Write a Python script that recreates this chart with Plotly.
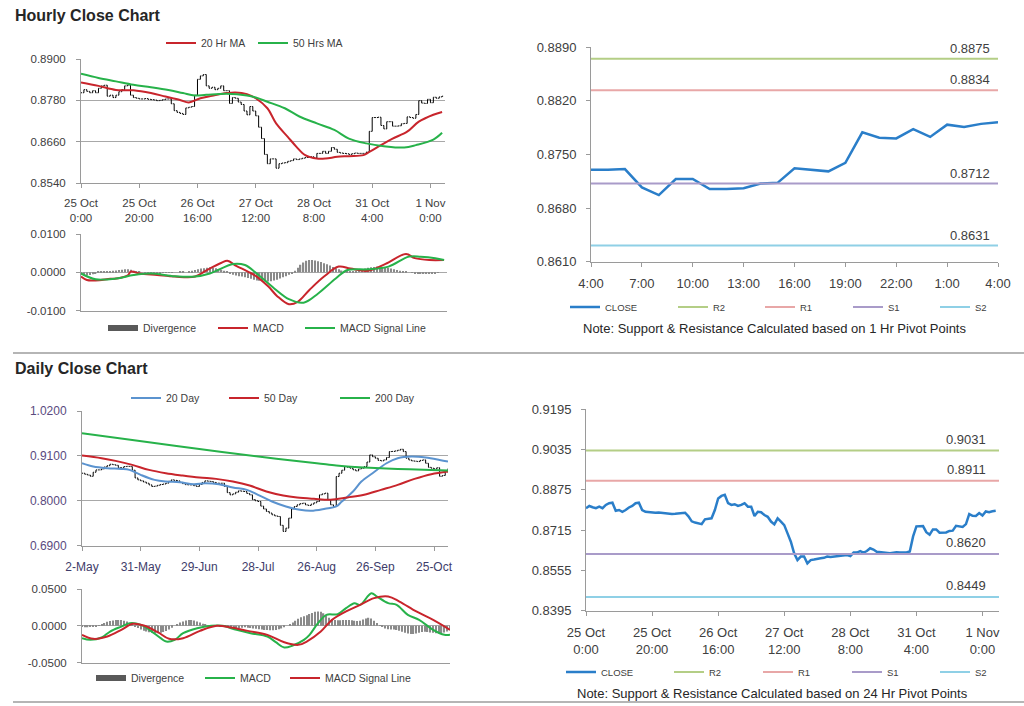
import plotly.graph_objects as go

FONT = "Liberation Sans, Arial, sans-serif"
W, H = 1024, 706
TXT = "#404040"
GRID = "#A8A8A8"
AXL = "#9A9A9A"
RED = "#C8252C"
GREEN = "#27B24A"
BLUE20 = "#5B93CF"
CLOSE_BLUE = "#2A7EC9"

# ---------------- data: hourly ----------------
hourly_close = [
    0.8802, 0.8811, 0.8806, 0.8802, 0.8808, 0.8802, 0.8815, 0.8822, 0.8824, 0.8792,
    0.8795, 0.8788, 0.8795, 0.8805, 0.8811, 0.8822, 0.8824, 0.8795, 0.8788, 0.8786,
    0.8784, 0.8784, 0.8785, 0.8783, 0.8782, 0.8781, 0.8779, 0.8780, 0.8782, 0.8784,
    0.8784, 0.8770, 0.8750, 0.8745, 0.8742, 0.8739, 0.8758, 0.8760, 0.8762, 0.8795,
    0.8841, 0.8851, 0.8855, 0.8822, 0.8815, 0.8818, 0.8811, 0.8815, 0.8822, 0.8808,
    0.8808, 0.8771, 0.8788, 0.8786, 0.8775, 0.8768, 0.8749, 0.8738, 0.8762, 0.8749,
    0.8735, 0.8702, 0.8669, 0.8623, 0.8596, 0.8610, 0.8610, 0.8583, 0.8596, 0.8598,
    0.8599, 0.8603, 0.8605, 0.8610, 0.8608, 0.8610, 0.8612, 0.8614, 0.8615, 0.8616,
    0.8612, 0.8626, 0.8626, 0.8632, 0.8626, 0.8632, 0.8643, 0.8638, 0.8629, 0.8627,
    0.8626, 0.8625, 0.8623, 0.8625, 0.8627, 0.8626, 0.8626, 0.8626, 0.8630, 0.8690,
    0.8730, 0.8730, 0.8731, 0.8707, 0.8697, 0.8718, 0.8718, 0.8705, 0.8705, 0.8706,
    0.8712, 0.8713, 0.8732, 0.8730, 0.8728, 0.8739, 0.8779, 0.8772, 0.8771, 0.8783,
    0.8773, 0.8789, 0.8786, 0.8790, 0.8792,
]
hourly_tick_idx = [0, 20, 40, 60, 80, 100, 120]
hourly_tick_text = ["25 Oct<br>0:00", "25 Oct<br>20:00", "26 Oct<br>16:00", "27 Oct<br>12:00",
                    "28 Oct<br>8:00", "31 Oct<br>4:00", "1 Nov<br>0:00"]

ma20_hr_idx = [0, 6, 12, 18, 24, 29, 34, 37, 41, 45, 50, 53, 57, 60, 64, 67, 71, 74, 77, 81,
               84, 88, 92, 97, 99, 103, 107, 112, 116, 121, 124]
ma20_hr_val = [0.8832, 0.8822, 0.8810, 0.8809, 0.8801, 0.8791, 0.8781, 0.8774, 0.8786, 0.8793,
               0.8801, 0.8803, 0.8798, 0.8786, 0.8757, 0.8713, 0.8674, 0.8645, 0.8621, 0.8611,
               0.8611, 0.8616, 0.8618, 0.8621, 0.8630, 0.8650, 0.8669, 0.8689, 0.8718, 0.8738, 0.8746]
ma50_hr_idx = [0, 6, 12, 18, 24, 30, 35, 39, 43, 50, 57, 60, 64, 70, 75, 81, 87, 92, 98, 104,
               111, 115, 121, 124]
ma50_hr_val = [0.8857, 0.8845, 0.8835, 0.8825, 0.8818, 0.8810, 0.8801, 0.8794, 0.8796, 0.8799,
               0.8794, 0.8788, 0.8776, 0.8757, 0.8733, 0.8713, 0.8694, 0.8669, 0.8655, 0.8647,
               0.8643, 0.8650, 0.8666, 0.8686]

macd_hr_idx = [0, 2, 5, 10, 12, 16, 17, 20, 26, 32, 39, 43, 48, 50, 53, 57, 60, 64, 67, 71,
               74, 78, 83, 88, 92, 98, 104, 111, 114, 119, 124]
macd_hr_val = [-0.0011, -0.0020, -0.0021, -0.0017, -0.0016, -0.0008, 0.0002, -0.0003, -0.0007,
               -0.0011, -0.0011, 0.0006, 0.0025, 0.0030, 0.0017, 0.0002, -0.0011, -0.0037, -0.0062,
               -0.0083, -0.0077, -0.0046, -0.0011, 0.0015, 0.0010, 0.0004, 0.0022, 0.0048, 0.0037,
               0.0032, 0.0032]
signal_hr_idx = [0, 5, 12, 18, 24, 32, 39, 44, 52, 56, 60, 66, 71, 76, 81, 87, 91, 98, 105,
                 112, 116, 121, 124]
signal_hr_val = [-0.0003, -0.0018, -0.0016, -0.0007, -0.0003, -0.0010, -0.0011, -0.0003, 0.0022,
                 0.0019, -0.0003, -0.0042, -0.0070, -0.0079, -0.0055, -0.0016, 0.0006, 0.0008,
                 0.0015, 0.0041, 0.0041, 0.0037, 0.0032]
divergence_hr = [
    -0.0005, -0.0008, -0.0008, -0.0007, -0.0005, -0.0003,
    0.0001, 0.0002, 0.0002, 0.0003, 0.0003, 0.0004,
    0.0005, 0.0006, 0.0007, 0.0008, 0.0008, 0.0007,
    0.0004, 0.0002, 0.0001, 0.0000, -0.0001, -0.0001,
    -0.0001, -0.0001, -0.0002, -0.0002, -0.0001, -0.0001,
    -0.0001, -0.0001, 0.0000, 0.0000, 0.0001, 0.0001,
    0.0000, 0.0002, 0.0004, 0.0006, 0.0008, 0.0010,
    0.0011, 0.0012, 0.0013, 0.0012, 0.0011, 0.0009,
    0.0007, 0.0004, 0.0001, -0.0003, -0.0006, -0.0008,
    -0.0010, -0.0011, -0.0013, -0.0015, -0.0017, -0.0019,
    -0.0021, -0.0022, -0.0023, -0.0024, -0.0024, -0.0023,
    -0.0021, -0.0019, -0.0016, -0.0013, -0.0010, -0.0006,
    -0.0002, 0.0004, 0.0012, 0.0020, 0.0026, 0.0030,
    0.0032, 0.0032, 0.0031, 0.0029, 0.0027, 0.0024,
    0.0021, 0.0018, 0.0014, 0.0011, 0.0008, 0.0005,
    0.0003, 0.0002, 0.0002, 0.0003, 0.0004, 0.0006,
    0.0008, 0.0010, 0.0012, 0.0013, 0.0014, 0.0015,
    0.0015, 0.0014, 0.0013, 0.0012, 0.0010, 0.0008,
    0.0006, 0.0004, 0.0002, 0.0001, 0.0000, -0.0001,
    -0.0002, -0.0003, -0.0004, -0.0004, -0.0003, -0.0003,
    -0.0002, -0.0002, -0.0001, 0.0000, 0.0000,
]

# last 24 hours (1 Hr pivot chart)
last_day_start = 100
last_day_tick_idx = [0, 3, 6, 9, 12, 15, 18, 21, 24]
last_day_tick_text = ["4:00", "7:00", "10:00", "13:00", "16:00", "19:00", "22:00", "1:00", "4:00"]

level_names = ["R2", "R1", "S1", "S2"]
level_colors = ["#B4CE86", "#E8A7A7", "#A99BC9", "#8FD0E6"]
levels_1h = [0.8875, 0.8834, 0.8712, 0.8631]
levels_24h = [0.9031, 0.8911, 0.8620, 0.8449]

# ---------------- data: daily ----------------
daily_close = [
    0.8676, 0.8650, 0.8630, 0.8600, 0.8700, 0.8757, 0.8757, 0.8780, 0.8830, 0.8860,
    0.8896, 0.8885, 0.8870, 0.8810, 0.8810, 0.8839, 0.8845, 0.8839, 0.8750, 0.8560,
    0.8513, 0.8489, 0.8460, 0.8431, 0.8390, 0.8350, 0.8360, 0.8380, 0.8400, 0.8410,
    0.8431, 0.8480, 0.8513, 0.8500, 0.8489, 0.8450, 0.8420, 0.8395, 0.8391, 0.8391,
    0.8370, 0.8350, 0.8400, 0.8450, 0.8489, 0.8480, 0.8472, 0.8450, 0.8431, 0.8430,
    0.8431, 0.8350, 0.8200, 0.8146, 0.8170, 0.8210, 0.8244, 0.8235, 0.8228, 0.8180,
    0.8146, 0.8030, 0.8000, 0.7983, 0.7870, 0.7800, 0.7739, 0.7700, 0.7657, 0.7630,
    0.7616, 0.7400, 0.7250, 0.7331, 0.7576, 0.7800, 0.7860, 0.7902, 0.7930, 0.7942,
    0.7900, 0.7885, 0.7918, 0.7950, 0.7983, 0.8146, 0.8170, 0.8187, 0.8030, 0.7902,
    0.7861, 0.8594, 0.8676, 0.8750, 0.8839, 0.8820, 0.8798, 0.8760, 0.8733, 0.8780,
    0.8798, 0.8839, 0.8950, 0.9124, 0.9080, 0.9043, 0.8990, 0.8978, 0.9002, 0.9060,
    0.9206, 0.9210, 0.9222, 0.9240, 0.9263, 0.9206, 0.9043, 0.9000, 0.8978, 0.8970,
    0.8961, 0.8990, 0.9002, 0.8920, 0.8820, 0.8798, 0.8780, 0.8810, 0.8600, 0.8620,
    0.8710, 0.8790,
]
daily_tick_idx = [0, 21, 42, 63, 84, 105, 126]
daily_tick_text = ["2-May", "31-May", "29-Jun", "28-Jul", "26-Aug", "26-Sep", "25-Oct"]

sma20_idx = [0, 4, 9, 14, 17, 21, 26, 30, 35, 40, 44, 49, 54, 59, 63, 68, 73, 78, 82, 87,
             91, 93, 97, 100, 104, 109, 113, 118, 123, 128, 131]
sma20_val = [0.8920, 0.8839, 0.8798, 0.8782, 0.8757, 0.8635, 0.8513, 0.8472, 0.8456, 0.8407,
             0.8431, 0.8407, 0.8326, 0.8268, 0.8146, 0.7983, 0.7861, 0.7779, 0.7755, 0.7804,
             0.7861, 0.7983, 0.8228, 0.8472, 0.8676, 0.8920, 0.9043, 0.9083, 0.9059, 0.9002, 0.8961]
sma50_idx = [0, 7, 12, 18, 24, 30, 36, 42, 48, 54, 60, 66, 72, 77, 83, 89, 95, 101, 107,
             113, 119, 125, 131]
sma50_val = [0.9108, 0.9043, 0.8978, 0.8880, 0.8757, 0.8676, 0.8619, 0.8570, 0.8537, 0.8472,
             0.8374, 0.8228, 0.8130, 0.8081, 0.8048, 0.8024, 0.8081, 0.8146, 0.8268, 0.8391,
             0.8537, 0.8652, 0.8717]
sma200_idx = [0, 18, 42, 66, 84, 91, 95, 101, 113, 125, 131]
sma200_val = [0.9654, 0.9491, 0.9271, 0.9059, 0.8920, 0.8863, 0.8839, 0.8815, 0.8782, 0.8757, 0.8741]

macd_d_idx = [0, 3, 7, 10, 14, 17, 21, 24, 28, 30, 33, 36, 41, 46, 50, 55, 60, 66, 69, 72,
              75, 79, 81, 84, 87, 91, 94, 97, 99, 103, 105, 109, 112, 116, 120, 125, 129, 131]
macd_d_val = [-0.0167, -0.0190, -0.0158, -0.0077, -0.0010, 0.0036, 0.0014, -0.0054, -0.0167,
              -0.0213, -0.0190, -0.0100, -0.0032, 0.0000, 0.0000, -0.0054, -0.0100, -0.0145,
              -0.0222, -0.0294, -0.0267, -0.0190, -0.0122, 0.0036, 0.0149, 0.0158, 0.0240,
              0.0308, 0.0285, 0.0443, 0.0398, 0.0308, 0.0285, 0.0149, 0.0081, -0.0054, -0.0122,
              -0.0122]
signal_d_idx = [0, 4, 9, 14, 18, 22, 27, 31, 36, 42, 48, 53, 59, 66, 72, 77, 80, 85, 89, 94,
                99, 104, 109, 113, 119, 125, 131]
signal_d_val = [-0.0122, -0.0176, -0.0145, -0.0054, 0.0027, 0.0005, -0.0086, -0.0176, -0.0167,
                -0.0068, 0.0000, -0.0023, -0.0068, -0.0122, -0.0222, -0.0258, -0.0213, -0.0077,
                0.0081, 0.0195, 0.0285, 0.0376, 0.0398, 0.0330, 0.0195, 0.0081, -0.0054]
divergence_d = [
    -0.0015, -0.0020, -0.0020, -0.0015, -0.0010, -0.0005,
    0.0010, 0.0025, 0.0040, 0.0055, 0.0065, 0.0072,
    0.0078, 0.0080, 0.0078, 0.0070, 0.0060, 0.0040,
    0.0015, -0.0010, -0.0030, -0.0050, -0.0065, -0.0078,
    -0.0088, -0.0095, -0.0100, -0.0100, -0.0095, -0.0085,
    -0.0070, -0.0050, -0.0025, 0.0000, 0.0025, 0.0045,
    0.0060, 0.0072, 0.0078, 0.0078, 0.0072, 0.0060,
    0.0045, 0.0030, 0.0018, 0.0008, 0.0002, 0.0000,
    -0.0002, -0.0005, -0.0010, -0.0015, -0.0020, -0.0025,
    -0.0030, -0.0035, -0.0030, -0.0025, -0.0020, -0.0025,
    -0.0030, -0.0035, -0.0040, -0.0045, -0.0050, -0.0055,
    -0.0058, -0.0060, -0.0060, -0.0055, -0.0045, -0.0035,
    -0.0020, 0.0000, 0.0020, 0.0045, 0.0070, 0.0095,
    0.0115, 0.0130, 0.0145, 0.0160, 0.0175, 0.0190,
    0.0195, 0.0190, 0.0170, 0.0140, 0.0110, 0.0090,
    0.0080, 0.0075, 0.0075, 0.0078, 0.0080, 0.0080,
    0.0075, 0.0070, 0.0065, 0.0070, 0.0085, 0.0100,
    0.0110, 0.0100, 0.0070, 0.0040, 0.0010, -0.0015,
    -0.0035, -0.0045, -0.0050, -0.0050, -0.0055, -0.0065,
    -0.0080, -0.0095, -0.0105, -0.0110, -0.0110, -0.0105,
    -0.0095, -0.0085, -0.0080, -0.0085, -0.0090, -0.0095,
    -0.0100, -0.0105, -0.0100, -0.0090, -0.0075, -0.0060,
]


# ---------------- helpers ----------------
def fx(x):
    return x / W


def fy(y):
    return 1 - y / H


def ohlc_from_close(closes):
    opens = [closes[0]] + closes[:-1]
    highs = [max(o, c) for o, c in zip(opens, closes)]
    lows = [min(o, c) for o, c in zip(opens, closes)]
    return opens, highs, lows, closes


fig = go.Figure()

# ---- Hourly price (x / y)
o, h, l, c = ohlc_from_close(hourly_close)
fig.add_trace(go.Ohlc(x=list(range(len(hourly_close))), open=o, high=h, low=l, close=c,
                      increasing_line_color="black", decreasing_line_color="black",
                      line_width=1, tickwidth=0.35, showlegend=False, hoverinfo="skip",
                      xaxis="x", yaxis="y"))
fig.add_trace(go.Scatter(x=ma20_hr_idx, y=ma20_hr_val, mode="lines", name="20 Hr MA",
                         line=dict(color=RED, width=2, shape="spline"), xaxis="x", yaxis="y",
                         legend="legend"))
fig.add_trace(go.Scatter(x=ma50_hr_idx, y=ma50_hr_val, mode="lines", name="50 Hrs MA",
                         line=dict(color=GREEN, width=2, shape="spline"), xaxis="x", yaxis="y",
                         legend="legend2"))

# ---- Hourly MACD (x2 / y2)
fig.add_trace(go.Bar(x=list(range(len(divergence_hr))), y=divergence_hr, width=0.45,
                     marker_color="#8A8A8A", marker_line_width=0, showlegend=False,
                     xaxis="x2", yaxis="y2"))
fig.add_trace(go.Scatter(x=[None], y=[None], mode="lines", name="Divergence",
                         line=dict(color="#595959", width=6), xaxis="x2", yaxis="y2",
                         legend="legend3"))
fig.add_trace(go.Scatter(x=macd_hr_idx, y=macd_hr_val, mode="lines", name="MACD",
                         line=dict(color=RED, width=2, shape="spline"), xaxis="x2", yaxis="y2",
                         legend="legend4"))
fig.add_trace(go.Scatter(x=signal_hr_idx, y=signal_hr_val, mode="lines", name="MACD Signal Line",
                         line=dict(color=GREEN, width=2, shape="spline"), xaxis="x2", yaxis="y2",
                         legend="legend5"))

# ---- 1 Hr pivot chart (x3 / y3)
last_day_close = hourly_close[last_day_start:]
fig.add_trace(go.Scatter(x=list(range(len(last_day_close))), y=last_day_close, mode="lines",
                         name="CLOSE", line=dict(color=CLOSE_BLUE, width=2.5),
                         xaxis="x3", yaxis="y3", legend="legend6"))
for i, (nm, col, lv) in enumerate(zip(level_names, level_colors, levels_1h)):
    fig.add_trace(go.Scatter(x=[0, len(last_day_close) - 1], y=[lv, lv], mode="lines", name=nm,
                             line=dict(color=col, width=2), xaxis="x3", yaxis="y3",
                             legend=f"legend{7 + i}"))

# ---- Daily price (x4 / y4)
o, h, l, c = ohlc_from_close(daily_close)
fig.add_trace(go.Ohlc(x=list(range(len(daily_close))), open=o, high=h, low=l, close=c,
                      increasing_line_color="black", decreasing_line_color="black",
                      line_width=1, tickwidth=0.35, showlegend=False, hoverinfo="skip",
                      xaxis="x4", yaxis="y4"))
fig.add_trace(go.Scatter(x=sma20_idx, y=sma20_val, mode="lines", name="20 Day",
                         line=dict(color=BLUE20, width=2, shape="spline"), xaxis="x4", yaxis="y4",
                         legend="legend11"))
fig.add_trace(go.Scatter(x=sma50_idx, y=sma50_val, mode="lines", name="50 Day",
                         line=dict(color=RED, width=2, shape="spline"), xaxis="x4", yaxis="y4",
                         legend="legend12"))
fig.add_trace(go.Scatter(x=sma200_idx, y=sma200_val, mode="lines", name="200 Day",
                         line=dict(color=GREEN, width=2, shape="spline"), xaxis="x4", yaxis="y4",
                         legend="legend13"))

# ---- Daily MACD (x5 / y5)
fig.add_trace(go.Bar(x=list(range(len(divergence_d))), y=divergence_d, width=0.45,
                     marker_color="#8A8A8A", marker_line_width=0, showlegend=False,
                     xaxis="x5", yaxis="y5"))
fig.add_trace(go.Scatter(x=[None], y=[None], mode="lines", name="Divergence",
                         line=dict(color="#595959", width=6), xaxis="x5", yaxis="y5",
                         legend="legend14"))
fig.add_trace(go.Scatter(x=macd_d_idx, y=macd_d_val, mode="lines", name="MACD",
                         line=dict(color=GREEN, width=2, shape="spline"), xaxis="x5", yaxis="y5",
                         legend="legend15"))
fig.add_trace(go.Scatter(x=signal_d_idx, y=signal_d_val, mode="lines", name="MACD Signal Line",
                         line=dict(color=RED, width=2, shape="spline"), xaxis="x5", yaxis="y5",
                         legend="legend16"))

# ---- 24 Hr pivot chart (x6 / y6)
fig.add_trace(go.Scatter(x=list(range(len(hourly_close))), y=hourly_close, mode="lines",
                         name="CLOSE", line=dict(color=CLOSE_BLUE, width=2.5),
                         xaxis="x6", yaxis="y6", legend="legend17"))
for i, (nm, col, lv) in enumerate(zip(level_names, level_colors, levels_24h)):
    fig.add_trace(go.Scatter(x=[0, 125], y=[lv, lv], mode="lines", name=nm,
                             line=dict(color=col, width=2), xaxis="x6", yaxis="y6",
                             legend=f"legend{18 + i}"))


# ---------------- axes ----------------
def xax(dom, rng, tv, tt, anchor, size=11.5, color=TXT, labels=True, standoff=6):
    return dict(domain=[fx(dom[0]), fx(dom[1])], range=rng, anchor=anchor,
                tickmode="array", tickvals=tv, ticktext=tt if labels else [""] * len(tv),
                showticklabels=labels, ticks="outside", ticklen=4, tickcolor=AXL,
                showline=True, linecolor=AXL, linewidth=1, showgrid=False, zeroline=False,
                tickfont=dict(size=size, color=color, family=FONT), automargin=False,
                ticklabelstandoff=standoff, fixedrange=True)


def yax(dom, rng, tv, tt, anchor, grid=True, size=11.5, color=TXT, standoff=8):
    return dict(domain=[fy(dom[1]), fy(dom[0])], range=rng, anchor=anchor,
                tickmode="array", tickvals=tv, ticktext=tt,
                ticks="outside", ticklen=4, tickcolor=AXL,
                showline=True, linecolor=AXL, linewidth=1,
                showgrid=grid, gridcolor=GRID, gridwidth=1, zeroline=False,
                tickfont=dict(size=size, color=color, family=FONT), automargin=False,
                ticklabelstandoff=standoff, fixedrange=True)


def fmt(v):
    return f"{v:.4f}"


hr_y = [0.854, 0.866, 0.878, 0.890]
mh_y = [-0.01, 0.0, 0.01]
p1_y = [0.861, 0.868, 0.875, 0.882, 0.889]
dp_y = [0.69, 0.80, 0.91, 1.02]
md_y = [-0.05, 0.0, 0.05]
p24_y = [0.8395, 0.8555, 0.8715, 0.8875, 0.9035, 0.9195]

layout_axes = dict(
    xaxis=xax((81, 445), [0, 125], hourly_tick_idx, hourly_tick_text, "y", standoff=5),
    yaxis=yax((59, 183), [0.854, 0.890], hr_y, [fmt(v) for v in hr_y], "x"),
    xaxis2=xax((81, 447), [0, 125], hourly_tick_idx, hourly_tick_text, "y2", labels=False),
    yaxis2=yax((234, 310.7), [-0.01, 0.01], mh_y, [fmt(v) for v in mh_y], "x2"),
    xaxis3=xax((591, 998), [0, 24], last_day_tick_idx, last_day_tick_text, "y3", size=13,
               standoff=6),
    yaxis3=yax((47.3, 261.7), [0.861, 0.889], p1_y, [fmt(v) for v in p1_y], "x3", grid=False,
               size=13, standoff=7),
    xaxis4=xax((82, 448), [0, 131], daily_tick_idx, daily_tick_text, "y4", size=12,
               color="#3E3C6A", standoff=6),
    yaxis4=yax((411, 545.7), [0.69, 1.02], dp_y, [fmt(v) for v in dp_y], "x4", size=12,
               color="#5A4A7E"),
    xaxis5=xax((82, 450), [0, 131], daily_tick_idx, daily_tick_text, "y5", labels=False),
    yaxis5=yax((589, 662.7), [-0.05, 0.05], md_y, [fmt(v) for v in md_y], "x5"),
    xaxis6=xax((586, 999), [0, 125], hourly_tick_idx, hourly_tick_text, "y6", size=13,
               standoff=6),
    yaxis6=yax((409.3, 610.7), [0.8395, 0.9195], p24_y, [fmt(v) for v in p24_y], "x6",
               grid=False, size=13, standoff=7),
)
layout_axes["xaxis"]["rangeslider"] = dict(visible=False)
layout_axes["xaxis4"]["rangeslider"] = dict(visible=False)
for k in ("xaxis2", "xaxis5"):
    layout_axes[k]["ticks"] = ""

# ---------------- legends (one per entry, placed like the original) ----------------
legend_pos = {
    "legend": (166, 43, 10.5), "legend2": (258, 43, 10.5),
    "legend3": (108, 328, 10.5), "legend4": (218, 328, 10.5), "legend5": (305, 328, 10.5),
    "legend6": (570, 307, 9.5), "legend7": (678, 307, 9.5), "legend8": (765, 307, 9.5),
    "legend9": (853, 307, 9.5), "legend10": (940, 307, 9.5),
    "legend11": (131, 398, 10.5), "legend12": (229, 398, 10.5), "legend13": (340, 398, 10.5),
    "legend14": (96, 678, 10.5), "legend15": (205, 678, 10.5), "legend16": (290, 678, 10.5),
    "legend17": (566, 672, 9.5), "legend18": (674, 672, 9.5), "legend19": (763, 672, 9.5),
    "legend20": (852, 672, 9.5), "legend21": (940, 672, 9.5),
}
legends = {}
for name, (lx, ly, fs) in legend_pos.items():
    legends[name] = dict(x=fx(lx - 5), y=fy(ly), xanchor="left", yanchor="middle",
                         orientation="h", bgcolor="rgba(0,0,0,0)", borderwidth=0,
                         font=dict(size=fs, color=TXT, family=FONT), itemclick=False,
                         itemdoubleclick=False)

# ---------------- annotations ----------------
ann = [
    dict(text="<b>Hourly Close Chart</b>", x=fx(13), y=fy(16), xref="paper", yref="paper",
         xanchor="left", yanchor="middle", showarrow=False,
         font=dict(size=16, color="#262626", family=FONT)),
    dict(text="<b>Daily Close Chart</b>", x=fx(13), y=fy(369), xref="paper", yref="paper",
         xanchor="left", yanchor="middle", showarrow=False,
         font=dict(size=16, color="#262626", family=FONT)),
    dict(text="Note: Support & Resistance Calculated based on 1 Hr Pivot Points",
         x=fx(774), y=fy(328), xref="paper", yref="paper", xanchor="center", yanchor="middle",
         showarrow=False, font=dict(size=13, color="#262626", family=FONT)),
    dict(text="Note: Support & Resistance Calculated based on 24 Hr Pivot Points",
         x=fx(772), y=fy(693), xref="paper", yref="paper", xanchor="center", yanchor="middle",
         showarrow=False, font=dict(size=13, color="#262626", family=FONT)),
]
for lv in levels_1h:
    ann.append(dict(text=fmt(lv), x=fx(992), y=lv, xref="paper", yref="y3", xanchor="right",
                    yanchor="bottom", yshift=1, showarrow=False,
                    font=dict(size=13, color=TXT, family=FONT)))
for lv in levels_24h:
    ann.append(dict(text=fmt(lv), x=fx(988), y=lv, xref="paper", yref="y6", xanchor="right",
                    yanchor="bottom", yshift=2, showarrow=False,
                    font=dict(size=13, color=TXT, family=FONT)))

shapes = [
    dict(type="line", xref="paper", yref="paper", x0=fx(13), x1=1, y0=fy(353), y1=fy(353),
         line=dict(color="#B5B5B5", width=2)),
    dict(type="line", xref="paper", yref="paper", x0=fx(13), x1=1, y0=fy(702), y1=fy(702),
         line=dict(color="#B5B5B5", width=2)),
]

fig.update_layout(
    template="none",
    width=W, height=H, autosize=False,
    margin=dict(l=0, r=0, t=0, b=0, pad=0, autoexpand=False),
    paper_bgcolor="white", plot_bgcolor="white",
    font=dict(family=FONT, color=TXT),
    barmode="overlay", hovermode=False,
    annotations=ann, shapes=shapes,
    **layout_axes, **legends,
)

fig.write_html("out.html", config={"displayModeBar": False},
               post_script="document.body.style.margin='0';document.body.style.overflow='hidden';")
